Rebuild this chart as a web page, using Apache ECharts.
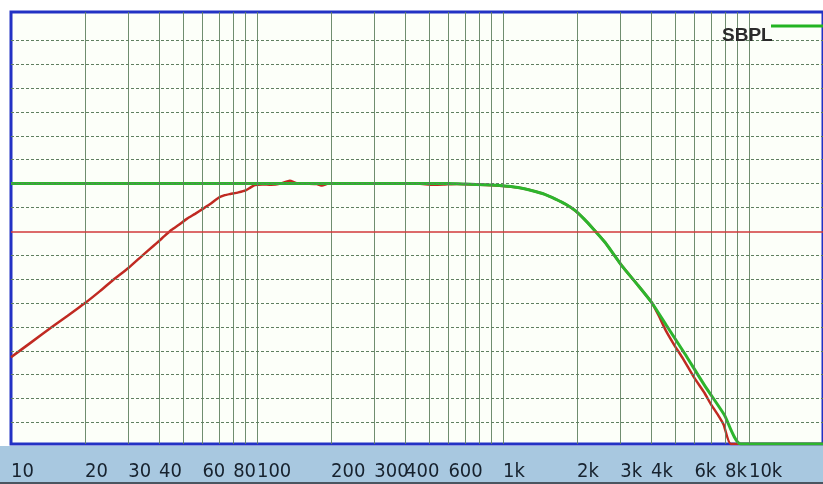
<!DOCTYPE html>
<html lang="en">
<head>
<meta charset="UTF-8">
<title>SPL</title>
<script src="https://cdn.jsdelivr.net/npm/echarts@6/dist/echarts.min.js"></script>
</head>
<body style="margin:0;width:823px;height:484px;background:#fff">
<div id="container" style="width:823px;height:484px"></div>
<script>
// measured response (red) and target curve (green), dB vs Hz
var redFreq = [10, 12, 15, 17, 20, 23, 26, 30, 34, 38, 40, 42, 45, 48, 52, 56, 60, 65, 70, 74, 78, 84, 90, 94, 98, 105, 114, 125, 136, 145, 160, 175, 184, 195, 300, 450, 520, 573, 650, 850, 997, 1150, 1318, 1480, 1636, 1800, 1969, 2130, 2300, 2603, 3040, 3546, 4016, 4300, 4600, 5000, 5400, 6000, 6600, 7000, 7500, 7900, 8440, 20000];
var redDb   = [-21.8, -20.0, -17.8, -16.6, -15.0, -13.5, -12.1, -10.6, -9.1, -7.8, -7.2, -6.6, -5.8, -5.2, -4.4, -3.8, -3.2, -2.5, -1.75, -1.45, -1.3, -1.1, -0.85, -0.5, -0.18, -0.1, -0.15, 0, 0.35, 0.05, 0, -0.05, -0.25, 0, 0, 0, -0.15, -0.12, -0.05, -0.18, -0.3, -0.5, -0.9, -1.35, -1.95, -2.6, -3.4, -4.4, -5.5, -7.4, -10.3, -12.8, -14.9, -16.6, -18.5, -20.4, -22.0, -24.4, -26.3, -27.7, -29.1, -30.3, -32.7, -32.7];

var greenFreq = [10, 600, 709, 850, 997, 1150, 1318, 1480, 1636, 1800, 1969, 2130, 2300, 2603, 3040, 3546, 4016, 4686, 5470, 6590, 7925, 9265, 20000];
var greenDb   = [0, 0, -0.06, -0.14, -0.26, -0.5, -0.9, -1.35, -1.95, -2.6, -3.4, -4.4, -5.5, -7.4, -10.3, -12.8, -14.9, -18.1, -21.3, -25.3, -29.0, -32.7, -32.7];

var xLabels = [10, 20, 30, 40, 60, 80, 100, 200, 300, 400, 600, 1000, 2000, 3000, 4000, 6000, 8000, 10000];
var xGrid = [20, 30, 40, 50, 60, 70, 80, 90, 100, 200, 300, 400, 500, 600, 700, 800, 900, 1000,
             2000, 3000, 4000, 5000, 6000, 7000, 8000, 9000, 10000];
var yGrid = [18, 15, 12, 9, 6, 3, 0, -3, -9, -12, -15, -18, -21, -24, -27, -30];
var refLevel = -6;

function pairs(xs, ys) {
    return xs.map(function (x, i) { return [x, ys[i]]; });
}

var dom = document.getElementById("container");
var myChart = echarts.init(dom);

var gridLines = xGrid.map(function (f) {
    return { xAxis: f, lineStyle: { color: '#5f815f', width: 1, type: 'solid', opacity: 0.9 } };
}).concat(yGrid.map(function (v) {
    return { yAxis: v, lineStyle: { color: '#5f7f60', width: 1, type: [3, 2] } };
}));

option = {
    animation: false,
    grid: {
        left: 11, top: 12, right: -7, bottom: 40,
        show: true,
        backgroundColor: '#fcfff9',
        borderColor: '#2232c4',
        borderWidth: 3
    },
    graphic: [
        { type: 'rect', z: -10, shape: { x: 0, y: 446, width: 823, height: 38 }, style: { fill: '#a8c8e0' } },
        { type: 'rect', z: -9, shape: { x: 0, y: 482, width: 823, height: 2 }, style: { fill: '#4a5560' } },
        { type: 'line', z: 100, shape: { x1: 771, y1: 26, x2: 823, y2: 26 }, style: { stroke: '#22b422', lineWidth: 3 } },
        { type: 'text', z: 100, left: 722, top: 26, style: { text: 'SBPL', fill: '#2b2b2b', font: 'bold 19px "Liberation Sans", Arial, sans-serif' } }
    ],
    xAxis: {
        type: 'log',
        min: 10,
        max: 20000,
        logBase: 10,
        axisLine: { show: false },
        axisTick: { show: false },
        splitLine: { show: false },
        axisLabel: {
            customValues: xLabels,
            showMinLabel: true,
            showMaxLabel: true,
            hideOverlap: false,
            align: 'left',
            margin: 18,
            color: '#17222e',
            fontSize: 20,
            fontFamily: '"DejaVu Sans Condensed", "Liberation Sans Narrow", sans-serif',
            formatter: function (v) {
                return v >= 1000 ? (v / 1000) + 'k' : String(v);
            }
        }
    },
    yAxis: {
        type: 'value',
        min: -32.7,
        max: 21.55,
        show: false
    },
    series: [{
        type: 'line',
        name: 'grid',
        data: [],
        z: 1,
        silent: true,
        markLine: {
            silent: true,
            symbol: 'none',
            label: { show: false },
            animation: false,
            data: gridLines
        }
    }, {
        type: 'line',
        name: 'ref',
        data: [],
        z: 2,
        silent: true,
        markLine: {
            silent: true,
            symbol: 'none',
            label: { show: false },
            animation: false,
            data: [{ yAxis: refLevel, lineStyle: { color: '#d23a3a', width: 1.5, type: 'solid' } }]
        }
    }, {
        type: 'line',
        name: 'SPL',
        data: pairs(redFreq, redDb),
        showSymbol: false,
        smooth: 0.15,
        z: 3,
        lineStyle: { color: '#c02a22', width: 2.5 }
    }, {
        type: 'line',
        name: 'BPL',
        data: pairs(greenFreq, greenDb),
        showSymbol: false,
        smooth: 0.2,
        z: 4,
        lineStyle: { color: '#2db52d', width: 3 }
    }]
};
if (option && typeof option === "object") {
    myChart.setOption(option, true);
}
</script>
</body>
</html>
